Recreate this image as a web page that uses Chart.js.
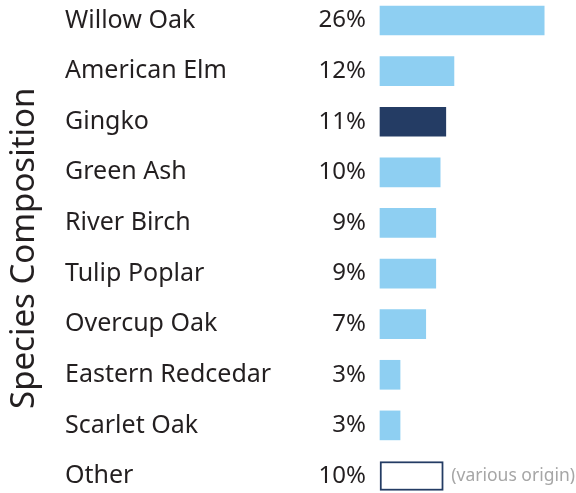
<!DOCTYPE html>
<html>
<head>
<meta charset="utf-8">
<script src="https://cdn.jsdelivr.net/npm/chart.js@4"></script>
<style>
  body { margin: 0; background: #fff; }
  #wrap { width: 576px; height: 493px; }
</style>
</head>
<body>
<div id="wrap"><canvas id="chart"></canvas></div>
<script>
// Species composition, bar lengths (% of trees).
const species = ['Willow Oak', 'American Elm', 'Gingko', 'Green Ash', 'River Birch',
  'Tulip Poplar', 'Overcup Oak', 'Eastern Redcedar', 'Scarlet Oak', 'Other'];
const shares = [26.2, 11.8, 10.5, 9.6, 8.9, 8.9, 7.3, 3.2, 3.2, 10.1];
const shareLabels = ['26%', '12%', '11%', '10%', '9%', '9%', '7%', '3%', '3%', '10%'];
const otherNote = '(various origin)';
const axisTitle = 'Species Composition';

const lightBlue = '#8ecff2';
const navy = '#243c64';
const textColor = '#231f20';

const barColors = species.map((s, i) => i === 2 ? navy : (i === species.length - 1 ? '#ffffff' : lightBlue));
const borderWidths = species.map((s, i) => i === species.length - 1 ? 2 : 0);

// fixed axis widths, no extra label padding above/below
function fixWidth(w) {
  return s => { s.width = w; s.paddingTop = 0; s.paddingBottom = 0; };
}

const notePlugin = {
  id: 'otherNote',
  afterDatasetsDraw(chart) {
    const bar = chart.getDatasetMeta(0).data[species.length - 1];
    const ctx = chart.ctx;
    ctx.save();
    ctx.font = '17.5px Noto Sans';
    ctx.fillStyle = '#a6a6a6';
    ctx.textBaseline = 'middle';
    ctx.textAlign = 'left';
    ctx.fillText(otherNote, bar.x + 8, bar.y);
    ctx.restore();
  }
};

new Chart(document.getElementById('chart'), {
  type: 'bar',
  data: {
    labels: species,
    datasets: [{
      data: shares,
      backgroundColor: barColors,
      borderColor: navy,
      borderWidth: borderWidths,
      borderSkipped: false,
      barThickness: 29,
      clip: false
    }]
  },
  options: {
    indexAxis: 'y',
    responsive: true,
    maintainAspectRatio: false,
    animation: false,
    layout: {padding: {top: 20.5, bottom: 17, left: 0, right: 8}},
    plugins: {legend: {display: false}, tooltip: {enabled: false}},
    scales: {
      x: {display: false, min: 0, max: 30},
      yTitle: {
        type: 'category',
        position: 'left',
        weight: 2,
        offset: false,
        grid: {display: false, drawTicks: false},
        border: {display: false},
        ticks: {display: false},
        title: {
          display: true,
          text: axisTitle,
          color: textColor,
          font: {family: 'Noto Sans', size: 33},
          padding: {top: 5, bottom: 0}
        },
        afterFit: fixWidth(65)
      },
      y: {
        type: 'category',
        position: 'left',
        weight: 1,
        offset: false,
        grid: {display: false, drawTicks: false},
        border: {display: false},
        ticks: {
          autoSkip: false,
          crossAlign: 'far',
          color: textColor,
          font: {family: 'Noto Sans', size: 25}
        },
        afterFit: fixWidth(235)
      },
      yPct: {
        type: 'category',
        position: 'left',
        weight: 0,
        offset: false,
        grid: {display: false, drawTicks: false},
        border: {display: false},
        ticks: {
          autoSkip: false,
          padding: 14,
          color: textColor,
          font: {family: 'Noto Sans', size: 24},
          callback: (v, i) => shareLabels[i]
        },
        afterFit: fixWidth(80)
      }
    }
  },
  plugins: [notePlugin]
});
</script>
</body>
</html>
